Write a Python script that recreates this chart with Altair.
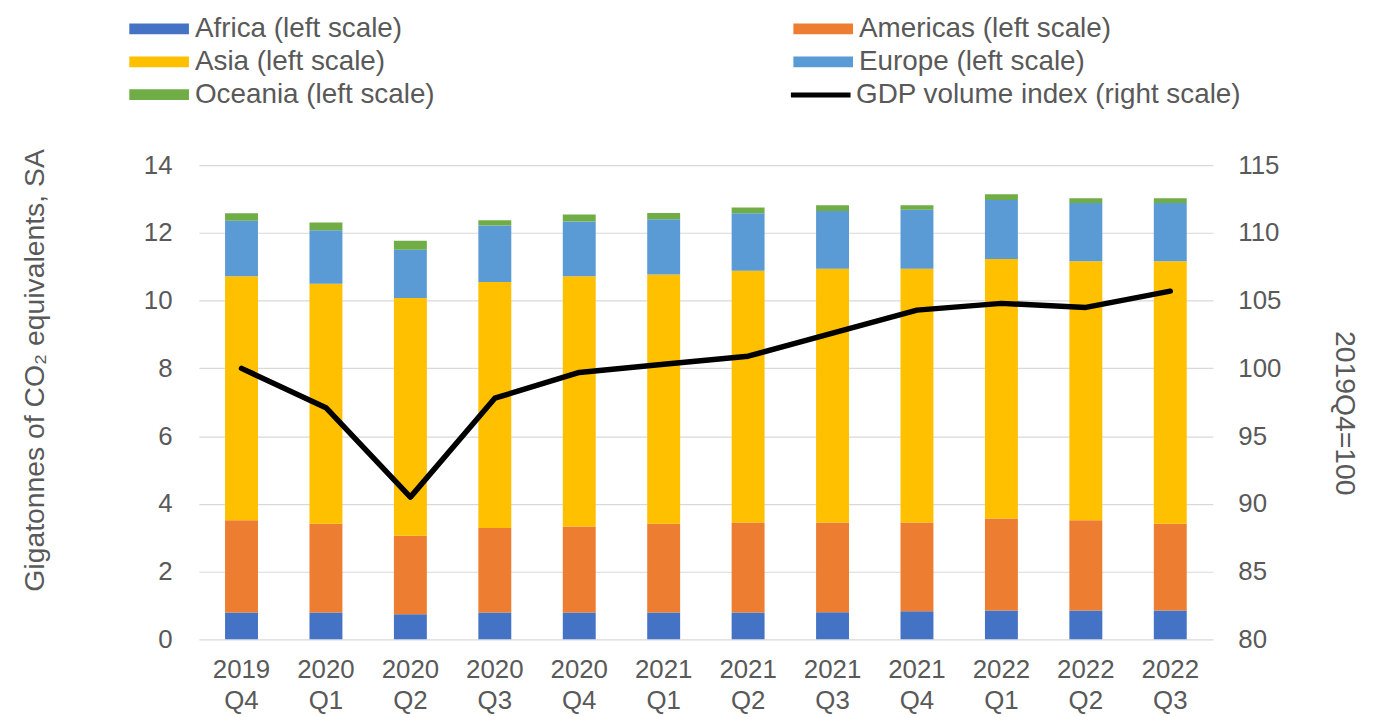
import altair as alt
import pandas as pd

quarters = ["2019 Q4", "2020 Q1", "2020 Q2", "2020 Q3", "2020 Q4", "2021 Q1",
            "2021 Q2", "2021 Q3", "2021 Q4", "2022 Q1", "2022 Q2", "2022 Q3"]
africa = [0.79, 0.79, 0.74, 0.79, 0.79, 0.79, 0.79, 0.80, 0.83, 0.85, 0.85, 0.85]
americas = [2.73, 2.62, 2.32, 2.50, 2.54, 2.62, 2.66, 2.65, 2.62, 2.72, 2.67, 2.56]
asia = [7.20, 7.09, 7.02, 7.26, 7.39, 7.36, 7.43, 7.49, 7.49, 7.66, 7.64, 7.75]
europe = [1.64, 1.58, 1.42, 1.67, 1.62, 1.63, 1.70, 1.71, 1.74, 1.74, 1.72, 1.72]
oceania = [0.22, 0.23, 0.27, 0.15, 0.20, 0.19, 0.17, 0.17, 0.14, 0.17, 0.14, 0.14]
gdp = [100.0, 97.1, 90.5, 97.8, 99.7, 100.3, 100.9, 102.6, 104.3, 104.8, 104.5, 105.7]

region_names = ["Africa (left scale)", "Americas (left scale)", "Asia (left scale)",
                "Europe (left scale)", "Oceania (left scale)"]
region_colors = ["#4472C4", "#ED7D31", "#FFC000", "#5B9BD5", "#70AD47"]
gdp_name = "GDP volume index (right scale)"
gdp_color = "#000000"

rows = []
for i, vals in enumerate([africa, americas, asia, europe, oceania]):
    for q, v in zip(quarters, vals):
        rows.append({"quarter": q, "series": region_names[i], "value": v, "order": i})
bars_df = pd.DataFrame(rows)
line_df = pd.DataFrame({"quarter": quarters, "gdp": gdp,
                        "line": [gdp_name] * len(quarters)})

FONT = "Liberation Sans"
TXT = "#595959"

x = alt.X("quarter:N", sort=quarters, title=None,
          scale=alt.Scale(paddingInner=0.61, paddingOuter=0.31),
          axis=alt.Axis(labelExpr="split(datum.label, ' ')", labelAngle=0,
                        labelFontSize=26, labelFont=FONT, labelColor=TXT,
                        labelLineHeight=32, labelPadding=17, ticks=False,
                        domain=False, labelBaseline="top"))

bars = alt.Chart(bars_df).mark_bar(stroke=None).encode(
    x=x,
    y=alt.Y("value:Q", stack="zero",
            scale=alt.Scale(domain=[0, 14], nice=False),
            axis=alt.Axis(values=list(range(0, 15, 2)), title="Gigatonnes of CO₂ equivalents, SA",
                          titleFontSize=28.5, titleFont=FONT, titleColor=TXT,
                          titleFontWeight="normal", titleAngle=-90,
                          titleX=-165, titleY=206, titleAlign="center", titleBaseline="middle",
                          labelFontSize=26, labelFont=FONT, labelColor=TXT,
                          labelPadding=27, ticks=False, tickSize=0, domain=False,
                          grid=True, gridColor="#D9D9D9", gridWidth=1.2)),
    color=alt.Color(
        "series:N",
        scale=alt.Scale(domain=region_names, range=region_colors),
        legend=alt.Legend(
            title=None, orient="none", legendX=-55, legendY=-152,
            direction="horizontal", columns=2, columnPadding=360, rowPadding=4, padding=0,
            symbolType="M-2,-0.36H2V0.36H-2Z", symbolSize=900, symbolStrokeWidth=0,
            labelOffset=21, labelFontSize=28, labelFont=FONT, labelColor=TXT,
            labelLimit=600),
    ),
    order=alt.Order("order:Q", sort="ascending"),
)

line = alt.Chart(line_df).mark_line(strokeWidth=5.5, strokeCap="round", strokeJoin="round").encode(
    x=alt.X("quarter:N", sort=quarters),
    y=alt.Y("gdp:Q", scale=alt.Scale(domain=[80, 115], nice=False),
            axis=alt.Axis(orient="right", values=list(range(80, 116, 5)), title="2019Q4=100",
                          titleFontSize=28.5, titleFont=FONT, titleColor=TXT,
                          titleFontWeight="normal", titleAngle=90,
                          titleX=132, titleY=249, titleAlign="center", titleBaseline="middle",
                          labelFontSize=26, labelFont=FONT, labelColor=TXT,
                          labelPadding=25, ticks=False, tickSize=0, domain=False, grid=False)),
    stroke=alt.Stroke(
        "line:N",
        scale=alt.Scale(domain=[gdp_name], range=[gdp_color]),
        legend=alt.Legend(
            title=None, orient="none", legendX=593, legendY=-103, padding=0,
            symbolType="stroke", symbolSize=3600, symbolStrokeWidth=5,
            labelOffset=3, labelFontSize=28, labelFont=FONT, labelColor=TXT,
            labelLimit=600),
    ),
)

chart = alt.layer(bars, line).resolve_scale(y="independent").properties(
    width=1020, height=477,
    padding={"left": 192, "top": 156, "right": 156, "bottom": 76},
    autosize=alt.AutoSizeParams(type="none"),
    background="white",
).configure_view(stroke=None)

chart.save("out.html", embed_options={"renderer": "svg", "actions": False})
